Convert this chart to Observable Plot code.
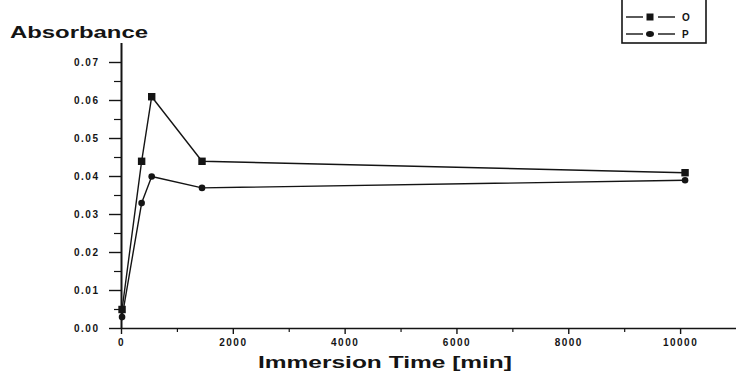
<!DOCTYPE html>
<html><head><meta charset="utf-8">
<script src="https://cdn.jsdelivr.net/npm/d3@7"></script>
<script src="https://cdn.jsdelivr.net/npm/@observablehq/plot@0.6"></script>
<style>
body{margin:0;background:#fff;}
#chart svg{display:block;}
</style>
</head><body><div id="chart"></div>
<script>
// Data
const times = [10, 360, 540, 1440, 10080];            // immersion time [min]
const seriesO = [0.005, 0.044, 0.061, 0.044, 0.041];   // square markers
const seriesP = [0.003, 0.033, 0.040, 0.037, 0.039];   // circle markers
const seriesNames = ["O", "P"];
const xTicks = [0, 2000, 4000, 6000, 8000, 10000];
const xMinor = [1000, 3000, 5000, 7000, 9000];
const yTicks = [0, 0.01, 0.02, 0.03, 0.04, 0.05, 0.06, 0.07];
const yMinor = [0.005, 0.015, 0.025, 0.035, 0.045, 0.055, 0.065];
const xLabel = "Immersion Time [min]";
const yLabel = "Absorbance";

const rows = [];
times.forEach((t, i) => rows.push({t, v: seriesO[i], s: seriesNames[0]}));
times.forEach((t, i) => rows.push({t, v: seriesP[i], s: seriesNames[1]}));

const ink = "#141414";
const W = 736, H = 372;
const chart = Plot.plot({
  width: W, height: H,
  marginLeft: 121, marginRight: 0, marginTop: 43, marginBottom: 44,
  style: {background: "#fff", fontFamily: "'Liberation Sans', Arial, sans-serif"},
  x: {domain: [0, 11000]},
  y: {domain: [0, 0.075]},
  marks: [
    Plot.ruleY([0], {stroke: ink, strokeWidth: 1.6}),
    Plot.ruleX([0], {stroke: ink, strokeWidth: 2}),
    Plot.axisX({ticks: xMinor, tickSize: 4, tickFormat: () => "", label: null, stroke: ink, strokeWidth: 1.2}),
    Plot.axisX({ticks: xTicks, tickSize: 6, tickPadding: 4, tickFormat: d => String(d), label: null,
      stroke: ink, strokeWidth: 1.4, fill: ink, fontSize: 10, fontWeight: "bold"}),
    Plot.axisY({ticks: yMinor, tickSize: 7, tickFormat: () => "", label: null, stroke: ink, strokeWidth: 1.2}),
    Plot.axisY({ticks: yTicks, tickSize: 12, tickPadding: 10, tickFormat: d3.format(".2f"), label: null,
      stroke: ink, strokeWidth: 1.4, fill: ink, fontSize: 10, fontWeight: "bold"}),
    Plot.line(rows, {x: "t", y: "v", z: "s", stroke: ink, strokeWidth: 1.4}),
    Plot.dot(rows.filter(d => d.s === seriesNames[0]), {x: "t", y: "v", symbol: "square", r: 4.2, fill: ink, stroke: "none"}),
    Plot.dot(rows.filter(d => d.s === seriesNames[1]), {x: "t", y: "v", symbol: "circle", r: 3.3, fill: ink, stroke: "none"})
  ]
});
document.getElementById("chart").appendChild(chart);

const svg = d3.select(chart);
svg.selectAll("g[aria-label='x-axis tick label'] text, g[aria-label='y-axis tick label'] text")
  .style("letter-spacing", "1.5px");

// Axis titles
svg.append("text").attr("x", 10).attr("y", 38).attr("text-anchor", "start")
  .attr("font-family", "'Liberation Sans', Arial, sans-serif").attr("font-weight", "bold")
  .attr("font-size", 16).attr("fill", ink)
  .attr("textLength", 138).attr("lengthAdjust", "spacingAndGlyphs")
  .text(yLabel);
svg.append("text").attr("x", 258).attr("y", 368).attr("text-anchor", "start")
  .attr("font-family", "'Liberation Sans', Arial, sans-serif").attr("font-weight", "bold")
  .attr("font-size", 17).attr("fill", ink)
  .attr("textLength", 254).attr("lengthAdjust", "spacingAndGlyphs")
  .text(xLabel);

// Legend box (top right)
const lg = svg.append("g");
lg.append("rect").attr("x", 622).attr("y", -3).attr("width", 84).attr("height", 46)
  .attr("fill", "#fff").attr("stroke", ink).attr("stroke-width", 1.6);
const rowsY = [17, 34];
seriesNames.forEach((name, i) => {
  const y = rowsY[i];
  lg.append("line").attr("x1", 626).attr("x2", 643).attr("y1", y).attr("y2", y).attr("stroke", ink).attr("stroke-width", 1.4);
  lg.append("line").attr("x1", 658).attr("x2", 675).attr("y1", y).attr("y2", y).attr("stroke", ink).attr("stroke-width", 1.4);
  if (i === 0) lg.append("rect").attr("x", 646.5).attr("y", y - 3.5).attr("width", 7).attr("height", 7).attr("fill", ink);
  else lg.append("ellipse").attr("cx", 650).attr("cy", y).attr("rx", 4).attr("ry", 3).attr("fill", ink);
  lg.append("text").attr("x", 682).attr("y", y + 3.5).attr("text-anchor", "start")
    .attr("font-family", "'Liberation Sans', Arial, sans-serif").attr("font-weight", "bold")
    .attr("font-size", 10).attr("fill", ink).text(name);
});
</script>
</body></html>
